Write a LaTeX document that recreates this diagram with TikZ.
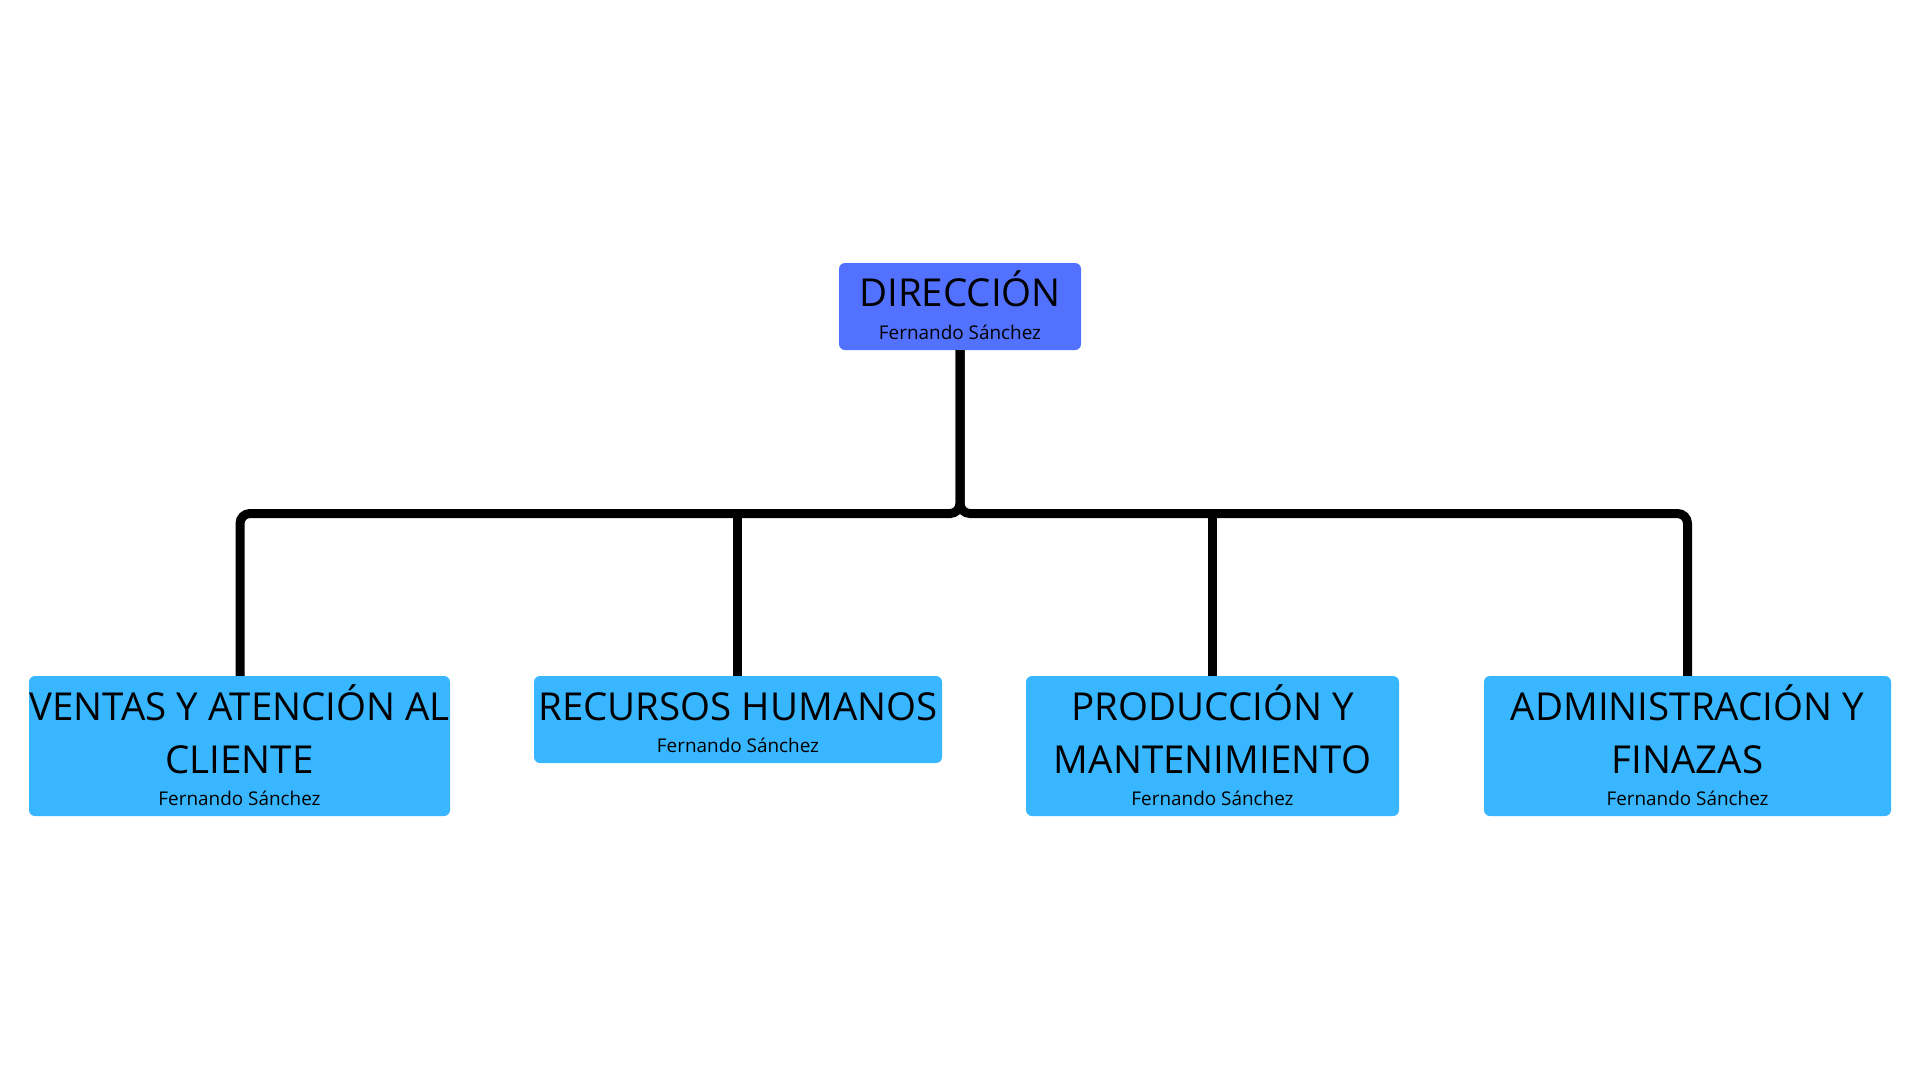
\documentclass[tikz,border=0pt]{standalone}
\usepackage{fontspec}
\setmainfont{Open Sans}
\definecolor{topblue}{HTML}{5271FF}
\definecolor{lightblue}{HTML}{38B6FF}
\begin{document}
\begin{tikzpicture}[x=1pt,y=-1pt,
  box/.style={rectangle, rounded corners=6pt, draw=none, inner sep=0pt},
  topbox/.style={box, fill=topblue},
  subbox/.style={box, fill=lightblue},
  ttl/.style={anchor=base, inner sep=0pt, font=\fontsize{38.5}{45}\selectfont, text=black},
  sub/.style={anchor=base, inner sep=0pt, font=\fontsize{18.9}{22}\selectfont, text=black},
  conn/.style={line width=9pt, draw=black, rounded corners=10pt}]
\useasboundingbox (0,0) rectangle (1920,1080);
\fill[white] (0,0) rectangle (1920,1080);
% boxes
\node[topbox, minimum width=242pt, minimum height=87pt] (top) at (960,306.5) {};
\node[subbox, minimum width=421pt, minimum height=140pt] (b1) at (239.5,746) {};
\node[subbox, minimum width=408pt, minimum height=87pt] (b2) at (738,719.5) {};
\node[subbox, minimum width=373pt, minimum height=140pt] (b3) at (1212.5,746) {};
\node[subbox, minimum width=407pt, minimum height=140pt] (b4) at (1687.5,746) {};
% connectors
\coordinate (bus) at (960,513.5);
\draw[conn] (top.south) -- (bus) -| ([xshift=0.5pt]b1.north);
\draw[conn] (top.south) -- (bus) -| (b4.north);
\draw[line width=9pt] ([xshift=-0.5pt]b2.north) -- ([xshift=-0.5pt]b2.north |- bus);
\draw[line width=9pt] (b3.north) -- (b3.north |- bus);
% texts
\node[ttl] (ttop) at (960,306) {DIRECCIÓN};
\node[sub] (stop) at (960,339) {Fernando Sánchez};
\node[ttl] (t1a) at (239.5,720) {VENTAS Y ATENCIÓN AL};
\node[ttl] (t1b) at (239.5,773) {CLIENTE};
\node[sub] (s1) at (239.5,805) {Fernando Sánchez};
\node[ttl] (t2a) at (738,720) {RECURSOS HUMANOS};
\node[sub] (s2) at (738,752) {Fernando Sánchez};
\node[ttl] (t3a) at (1212.5,720) {PRODUCCIÓN Y};
\node[ttl] (t3b) at (1212.5,773) {MANTENIMIENTO};
\node[sub] (s3) at (1212.5,805) {Fernando Sánchez};
\node[ttl] (t4a) at (1687.5,720) {ADMINISTRACIÓN Y};
\node[ttl] (t4b) at (1687.5,773) {FINAZAS};
\node[sub] (s4) at (1687.5,805) {Fernando Sánchez};
\end{tikzpicture}
\end{document}
